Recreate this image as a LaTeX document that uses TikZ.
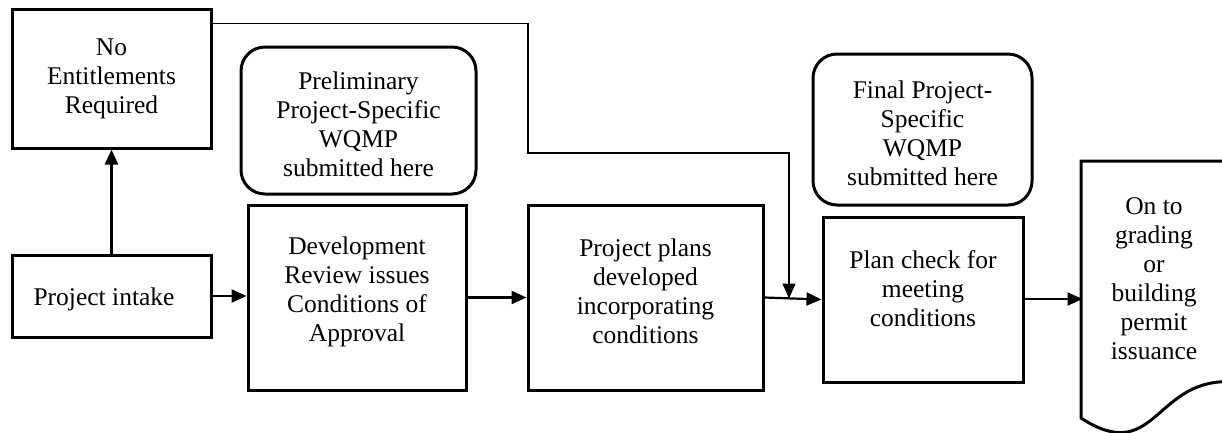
\documentclass[tikz,border=0pt]{standalone}
\usepackage{fontspec}
\setmainfont{Liberation Serif}
\usetikzlibrary{arrows.meta}
\tikzset{
  box/.style={draw, line width=3pt, inner sep=0pt, align=center},
  rbox/.style={box, rounded corners=24pt},
  txt/.style={align=center, inner sep=0pt},
  flow/.style={line width=2.2pt, -{Triangle[length=15pt,width=13pt]}},
  thinflow/.style={line width=1.4pt, -{Triangle[length=15pt,width=13pt]}},
}
\begin{document}
\begin{tikzpicture}[x=1pt, y=-1pt, font=\fontsize{25.5}{29}\selectfont]
\useasboundingbox (0,0) rectangle (1222,432);
\clip (0,0) rectangle (1222,432);
% boxes
\node[box, minimum width=199pt, minimum height=139pt] (ne) at (111.5,78.5) {};
\node[txt] (net) at (111.5,79) {No\\Entitlements\\Required};
\node[box, minimum width=199pt, minimum height=82pt] (intake) at (111.5,296) {};
\node[txt] (intaket) at (104,299) {Project intake};
\node[rbox, minimum width=235pt, minimum height=147pt] (pre) at (358.5,120.5) {};
\node[txt] (pret) at (358.5,124.5) {Preliminary\\Project-Specific\\WQMP\\submitted here};
\node[box, minimum width=218pt, minimum height=185pt] (dev) at (357,297.5) {};
\node[txt] (devt) at (357,291.5) {Development\\Review issues\\Conditions of\\Approval};
\node[box, minimum width=235pt, minimum height=185pt] (plans) at (645.5,297.5) {};
\node[txt] (planst) at (645.5,291.5) {Project plans\\developed\\incorporating\\conditions};
\node[rbox, minimum width=219pt, minimum height=151pt] (fin) at (922.5,129.5) {};
\node[txt] (fint) at (922.5,133.5) {Final Project-\\Specific\\WQMP\\submitted here};
\node[box, minimum width=200pt, minimum height=165pt] (check) at (923,299.5) {};
\node[txt] (checkt) at (923,288.5) {Plan check for\\meeting\\conditions};
% document shape
\draw[line width=3pt, line join=miter] (1081,161) -- (1227,161) -- (1227,381.6)
  .. controls (1154,381.6) and (1154,465.6) .. (1081,418) -- cycle;
\coordinate (docw) at (1082.5,299);
\node[txt] (doct) at (1154,279) {On to\\grading\\or\\building\\permit\\issuance};
% connectors
\draw[flow] (intake.north) -- (ne.south);
\draw[flow] (intake.east) -- (dev.west |- intake.east);
\draw[flow] (dev.east) -- (plans.west);
\draw[flow] (plans.east) -- (check.west);
\coordinate (j) at (789,298.5);
\draw[thinflow] ([yshift=-16pt]ne.north east) -| (528,153) -| (j);
\draw[flow] (check.east |- docw) -- (docw);
\end{tikzpicture}
\end{document}
